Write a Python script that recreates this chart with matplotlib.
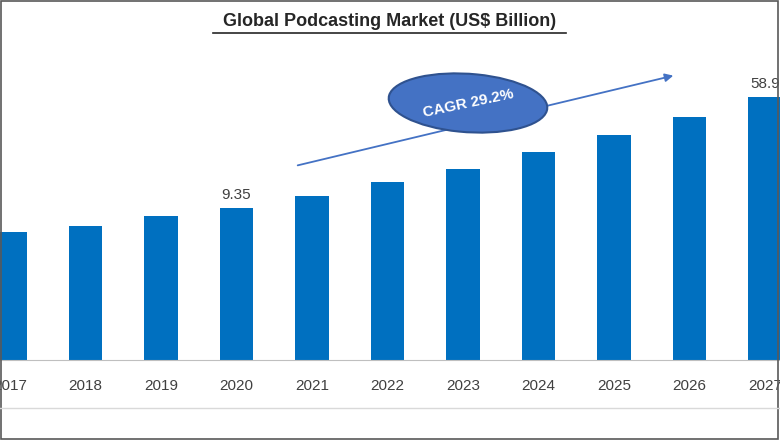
import matplotlib
matplotlib.use("Agg")
import matplotlib.pyplot as plt
from matplotlib.patches import Ellipse, FancyArrowPatch, Rectangle

years = ["2017", "2018", "2019", "2020", "2021", "2022", "2023", "2024", "2025", "2026", "2027"]
values = [7.87, 8.24, 8.86, 9.35, 10.09, 10.95, 11.75, 12.79, 13.84, 14.95, 16.18]
shown_labels = {"2020": "9.35", "2027": "58.9"}

W, H = 780, 440
fig = plt.figure(figsize=(W / 100, H / 100), dpi=100)
ax = fig.add_axes([0, 1 - 360 / H, 1, 300 / H])

x = list(range(len(years)))
ax.bar(x, values, width=0.45, color="#0070C0")
for i, (yr, v) in enumerate(zip(years, values)):
    if yr in shown_labels:
        ax.text(i, v + 0.35, shown_labels[yr], ha="center", va="bottom", fontsize=11,
                color="#404040", family="Liberation Sans")

ax.set_xlim(-10 / 75.5, 770 / 75.5)
ax.set_ylim(0, 300 * 9.35 / 152)
ax.set_xticks(x)
ax.set_xticklabels(years, fontsize=11, color="#404040", family="Liberation Sans")
ax.tick_params(axis="x", length=0, pad=14)
ax.set_yticks([])
for s in ["top", "left", "right"]:
    ax.spines[s].set_visible(False)
ax.spines["bottom"].set_color("#BFBFBF")

fig.text(0.5, 1 - 22 / H, "Global Podcasting Market (US$ Billion)", ha="center", va="center",
         fontsize=13, fontweight="bold", color="#262626", family="Liberation Sans")
fig.add_artist(plt.Line2D([213 / W, 566 / W], [1 - 33 / H] * 2, color="#262626", lw=1.2))

# CAGR arrow and ellipse
fig.add_artist(FancyArrowPatch((295 / W, 1 - 166 / H), (676 / W, 1 - 75 / H),
                               transform=fig.transFigure, arrowstyle="-|>", mutation_scale=12,
                               color="#4472C4", lw=1.3))
fig.add_artist(Ellipse((468 / W, 1 - 103 / H), 160 / W, 58 / H, angle=-10,
                       transform=fig.transFigure, facecolor="#4472C4", edgecolor="#2F528F", lw=1.5))
fig.text(468 / W, 1 - 103 / H, "CAGR 29.2%", ha="center", va="center", rotation=12,
         fontsize=11, fontweight="bold", color="white", family="Liberation Sans")

# frame lines
fig.add_artist(plt.Line2D([0, 1], [1 - 408 / H] * 2, color="#D9D9D9", lw=1))
fig.add_artist(Rectangle((0.001, 0.003), 0.997, 0.994, transform=fig.transFigure,
                         fill=False, edgecolor="#595959", lw=1.2))

fig.savefig("out.png", dpi=100)
